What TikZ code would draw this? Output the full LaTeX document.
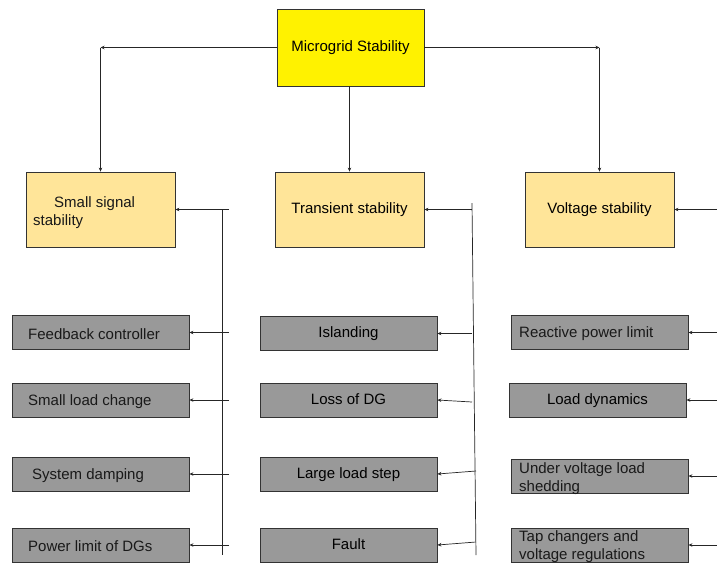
\documentclass[tikz,border=0pt]{standalone}
\usepackage{fontspec}
\setmainfont{Liberation Sans}
\usetikzlibrary{arrows.meta}
\definecolor{ybox}{HTML}{FFE599}
\definecolor{gboxc}{HTML}{999999}
\definecolor{edge}{HTML}{333333}
\begin{document}
\begin{tikzpicture}[x=1pt,y=-1pt,
  box/.style={draw=edge, line width=0.8pt, inner sep=0pt, font=\fontsize{15}{18}\selectfont, text depth=2pt},
  topbox/.style={box, fill=yellow, minimum width=147pt, minimum height=77pt},
  midbox/.style={box, fill=ybox, minimum width=149pt, minimum height=75pt},
  gbox/.style={box, fill=gboxc, minimum width=177pt, minimum height=34pt},
  txt/.style={inner sep=0pt, font=\fontsize{15}{18}\selectfont, align=left, text=black!90, yshift=-1.5pt},
  conn/.style={draw=black!85, line width=0.7pt},
  arr/.style={conn, -{Stealth[length=4pt,width=3.5pt]}}]
\useasboundingbox (0,0) rectangle (717,563);
\fill[white] (0,0) rectangle (717,563);

% top
\node[topbox] (top) at (350.5,47.5) {Microgrid Stability};

% middle level
\node[midbox] (ss) at (100.5,209.5) {};
\node[txt, anchor=west] (sst) at (33,211) {\hspace*{21pt}Small signal\\stability};
\node[midbox] (ts) at (349.5,209.5) {Transient stability};
\node[midbox] (vs) at (599.5,209.5) {Voltage stability};

% left column
\node[gbox] (fb) at (100.5,332.5) {};
\node[txt, anchor=west] (fbt) at (28,332.5) {Feedback controller};
\node[gbox] (slc) at (100.5,400) {};
\node[txt, anchor=west] (slct) at (28,400) {Small load change};
\node[gbox] (sd) at (100.5,474) {};
\node[txt, anchor=west] (sdt) at (32,474) {System damping};
\node[gbox] (pl) at (100.5,545) {};
\node[txt, anchor=west] (plt) at (28,545) {Power limit of DGs};

% middle column
\node[gbox] (isl) at (348.5,333.5) {Islanding};
\node[gbox] (ldg) at (348.5,400) {Loss of DG};
\node[gbox] (lls) at (348.5,474) {Large load step};
\node[gbox] (flt) at (348.5,545) {Fault};

% right column
\node[gbox] (rpl) at (599.5,332.5) {};
\node[txt, anchor=west] (rplt) at (519,332.5) {Reactive power limit};
\node[gbox] (ld) at (597.5,400) {Load dynamics};
\node[gbox] (uv) at (599.5,476) {};
\node[txt, anchor=west] (uvt) at (519,477.5) {Under voltage load\\shedding};
\node[gbox] (tc) at (599.5,545) {};
\node[txt, anchor=west] (tct) at (519,545.5) {Tap changers and\\voltage regulations};

% top connectors
\coordinate (lc) at (100.5,47.5);
\coordinate (rc) at (599.5,47.5);
\draw[arr] (top.west) -- (lc);
\draw[arr] (lc) -- (ss.north);
\draw[arr] (top.east) -- (rc);
\draw[arr] (rc) -- (vs.north);
\draw[arr] (top.south -| ts.north) -- (ts.north);

% left feeder
\coordinate (lf) at (229,209.5);
\coordinate (lvt) at (222,209.5);
\coordinate (lvb) at (222,555);
\draw[conn] (lvt) -- (lvb);
\draw[arr] (lf) -- (ss.east);
\draw[arr] (fb.east -| lf) -- (fb.east);
\draw[arr] (slc.east -| lf) -- (slc.east);
\draw[arr] (sd.east -| lf) -- (sd.east);
\draw[arr] (pl.east -| lf) -- (pl.east);

% middle feeder
\coordinate (mf) at (472,209.5);
\coordinate (mvt) at (472,203);
\coordinate (mvb) at (476,555);
\draw[conn] (mvt) -- (mvb);
\draw[arr] (mf) -- (ts.east);
\draw[arr] (isl.east -| mf) -- (isl.east);
\draw[arr] ([yshift=-2pt]ldg.east -| mvt) -- (ldg.east);
\draw[arr] ([yshift=3pt]lls.east -| mvb) -- (lls.east);
\draw[arr] ([yshift=3pt]flt.east -| mvb) -- (flt.east);

% right feeder
\coordinate (re) at (717,209.5);
\draw[arr] (re) -- (vs.east);
\draw[arr] (rpl.east -| re) -- (rpl.east);
\draw[arr] (ld.east -| re) -- (ld.east);
\draw[arr] (uv.east -| re) -- (uv.east);
\draw[arr] (tc.east -| re) -- (tc.east);
\end{tikzpicture}
\end{document}
